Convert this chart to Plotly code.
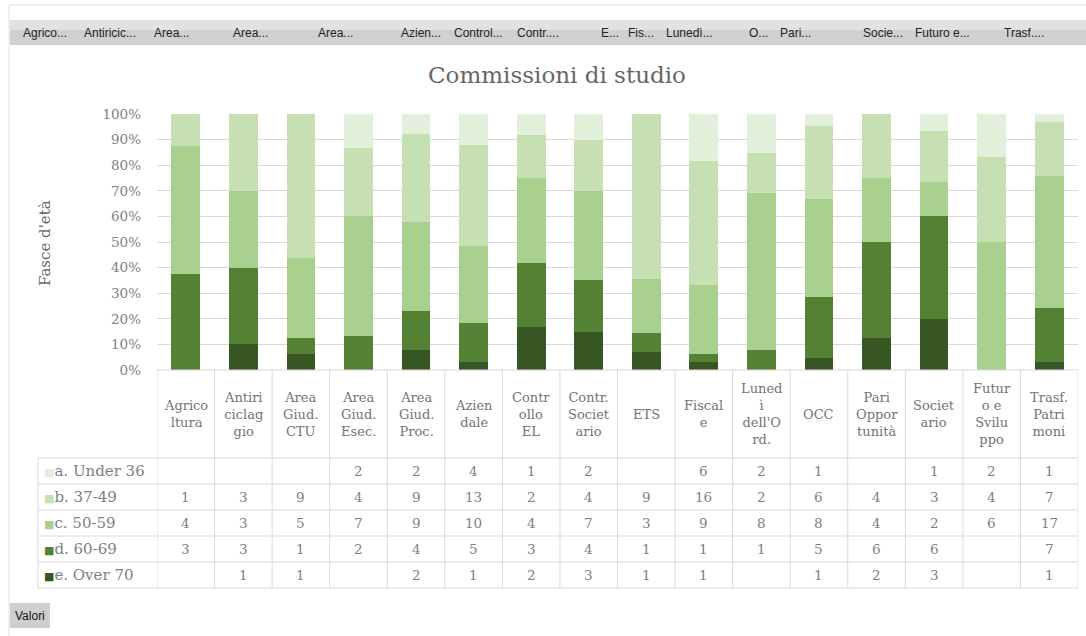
import plotly.graph_objects as go

# ---------------- data ----------------
categories = ["Agricoltura", "Antiriciclaggio", "Area Giud. CTU", "Area Giud. Esec.",
              "Area Giud. Proc.", "Aziendale", "Controllo EL", "Contr. Societario", "ETS",
              "Fiscale", "Lunedì dell'Ord.", "OCC", "Pari Opportunità", "Societario",
              "Futuro e Sviluppo", "Trasf. Patrimoni"]
header_labels = ["Agrico<br>ltura", "Antiri<br>ciclag<br>gio", "Area<br>Giud.<br>CTU",
                 "Area<br>Giud.<br>Esec.", "Area<br>Giud.<br>Proc.", "Azien<br>dale",
                 "Contr<br>ollo<br>EL", "Contr.<br>Societ<br>ario", "ETS", "Fiscal<br>e",
                 "Luned<br>ì<br>dell'O<br>rd.", "OCC", "Pari<br>Oppor<br>tunità",
                 "Societ<br>ario", "Futur<br>o e<br>Svilu<br>ppo", "Trasf.<br>Patri<br>moni"]
button_labels = ["Agrico...", "Antiricic...", "Area...", "Area...", "Area...", "Azien...",
                 "Control...", "Contr....", "E...", "Fis...", "Lunedì...", "O...", "Pari...",
                 "Socie...", "Futuro e...", "Trasf...."]

series_names = ["a. Under 36", "b. 37-49", "c. 50-59", "d. 60-69", "e. Over 70"]
under_36 = [None, None, None, 2, 2, 4, 1, 2, None, 6, 2, 1, None, 1, 2, 1]
age_37_49 = [1, 3, 9, 4, 9, 13, 2, 4, 9, 16, 2, 6, 4, 3, 4, 7]
age_50_59 = [4, 3, 5, 7, 9, 10, 4, 7, 3, 9, 8, 8, 4, 2, 6, 17]
age_60_69 = [3, 3, 1, 2, 4, 5, 3, 4, 1, 1, 1, 5, 6, 6, None, 7]
over_70 = [None, 1, 1, None, 2, 1, 2, 3, 1, 1, None, 1, 2, 3, None, 1]
series_values = [under_36, age_37_49, age_50_59, age_60_69, over_70]
series_colors = ["#e2efda", "#c6e0b4", "#a9d08e", "#548235", "#375623"]

# ---------------- layout helpers ----------------
W, H = 1086, 636
L, R, T, B = 157, 8, 114, 266
PW, PH = W - L - R, H - T - B


def pxx(x):
    return (x - L) / PW


def pxy(y):
    return (H - B - y) / PH


SERIF = "DejaVu Serif"
GRID = "#d9d9d9"
TXT = "#808080"

fig = go.Figure()
# stacked bottom -> top: Over 70, 60-69, 50-59, 37-49, Under 36
for name, vals, col in reversed(list(zip(series_names, series_values, series_colors))):
    fig.add_trace(go.Bar(
        x=categories, y=[v if v is not None else 0 for v in vals], name=name,
        marker=dict(color=col, line=dict(width=0)), hoverinfo="skip"))

shapes = []
annotations = []

# outer frame
shapes.append(dict(type="rect", xref="paper", yref="paper", x0=pxx(9), x1=pxx(1095),
                   y0=pxy(5), y1=pxy(645), line=dict(color="#e0e0e0", width=1)))
# top pivot button band (two tones to suggest the gradient)
shapes.append(dict(type="rect", xref="paper", yref="paper", x0=pxx(10), x1=pxx(1086),
                   y0=pxy(20), y1=pxy(30), line=dict(width=0), fillcolor="#e2e2e2", layer="below"))
shapes.append(dict(type="rect", xref="paper", yref="paper", x0=pxx(10), x1=pxx(1086),
                   y0=pxy(30), y1=pxy(45), line=dict(width=0), fillcolor="#d0d0d0", layer="below"))
btn_x = [20, 81, 151, 230, 315, 398, 451, 514, 598, 625, 663, 746, 777, 860, 912, 1001]
for lab, bx in zip(button_labels, btn_x):
    annotations.append(dict(text=lab, xref="paper", yref="paper", x=pxx(bx + 1), y=pxy(32.5),
                            xanchor="left", yanchor="middle", showarrow=False,
                            font=dict(family="Liberation Sans", size=12, color="#222222")))
# Valori button
shapes.append(dict(type="rect", xref="paper", yref="paper", x0=pxx(10), x1=pxx(50),
                   y0=pxy(603), y1=pxy(628), line=dict(width=0), fillcolor="#cfcfcf"))
annotations.append(dict(text="Valori", xref="paper", yref="paper", x=pxx(30), y=pxy(615.5),
                        xanchor="center", yanchor="middle", showarrow=False,
                        font=dict(family="Liberation Sans", size=12, color="#111111")))

# title and y title
annotations.append(dict(text="Commissioni di studio", xref="paper", yref="paper",
                        x=pxx(557), y=pxy(75), xanchor="center", yanchor="middle",
                        showarrow=False, font=dict(family=SERIF, size=23, color="#666666")))
annotations.append(dict(text="Fasce d'età", xref="paper", yref="paper", x=pxx(45),
                        y=pxy(243), xanchor="center", yanchor="middle", textangle=-90,
                        showarrow=False, font=dict(family=SERIF, size=15, color="#666666")))

# data table
n = len(categories)
row_top = 458
row_h = 26
table_bottom = row_top + row_h * len(series_names)
for i in range(n + 1):
    shapes.append(dict(type="line", xref="x", yref="paper", x0=i - 0.5, x1=i - 0.5,
                       y0=pxy(370), y1=pxy(table_bottom), line=dict(color=GRID, width=1)))
shapes.append(dict(type="line", xref="paper", yref="paper", x0=pxx(38), x1=pxx(38),
                   y0=pxy(row_top), y1=pxy(table_bottom), line=dict(color=GRID, width=1)))
shapes.append(dict(type="line", xref="paper", yref="paper", x0=0, x1=1,
                   y0=pxy(370), y1=pxy(370), line=dict(color=GRID, width=1)))
for r in range(len(series_names) + 1):
    yy = row_top + r * row_h
    shapes.append(dict(type="line", xref="paper", yref="paper", x0=pxx(38), x1=1,
                       y0=pxy(yy), y1=pxy(yy), line=dict(color=GRID, width=1)))

for i, lab in enumerate(header_labels):
    annotations.append(dict(text=lab, xref="x", yref="paper", x=i, y=pxy(414),
                            xanchor="center", yanchor="middle", showarrow=False,
                            font=dict(family=SERIF, size=13, color="#737373")))

for r, (name, vals, col) in enumerate(zip(series_names, series_values, series_colors)):
    yc = row_top + r * row_h + row_h / 2
    annotations.append(dict(text=f"<span style='color:{col};font-size:11px'>■</span>{name}",
                            xref="paper", yref="paper", x=pxx(42), y=pxy(yc),
                            xanchor="left", yanchor="middle", showarrow=False,
                            font=dict(family=SERIF, size=15, color=TXT)))
    for i, v in enumerate(vals):
        if v is None:
            continue
        annotations.append(dict(text=str(v), xref="x", yref="paper", x=i, y=pxy(yc),
                                xanchor="center", yanchor="middle", showarrow=False,
                                font=dict(family=SERIF, size=13.5, color=TXT)))

fig.update_layout(
    width=W, height=H, margin=dict(l=L, r=R, t=T, b=B),
    paper_bgcolor="white", plot_bgcolor="white",
    barmode="stack", barnorm="percent", bargap=0.5, showlegend=False,
    shapes=shapes, annotations=annotations,
    xaxis=dict(type="category", showticklabels=False, showgrid=False, zeroline=False,
               showline=False, ticks="", range=[-0.5, n - 0.5]),
    yaxis=dict(range=[0, 100], dtick=10, ticksuffix="%", showgrid=True, gridcolor=GRID,
               zeroline=False, showline=False, ticklabelstandoff=15,
               tickfont=dict(family=SERIF, size=13.5, color=TXT)),
)

fig.write_html("out.html", config={"displayModeBar": False},
               post_script="document.body.style.margin='0';document.body.style.overflow='hidden';")
